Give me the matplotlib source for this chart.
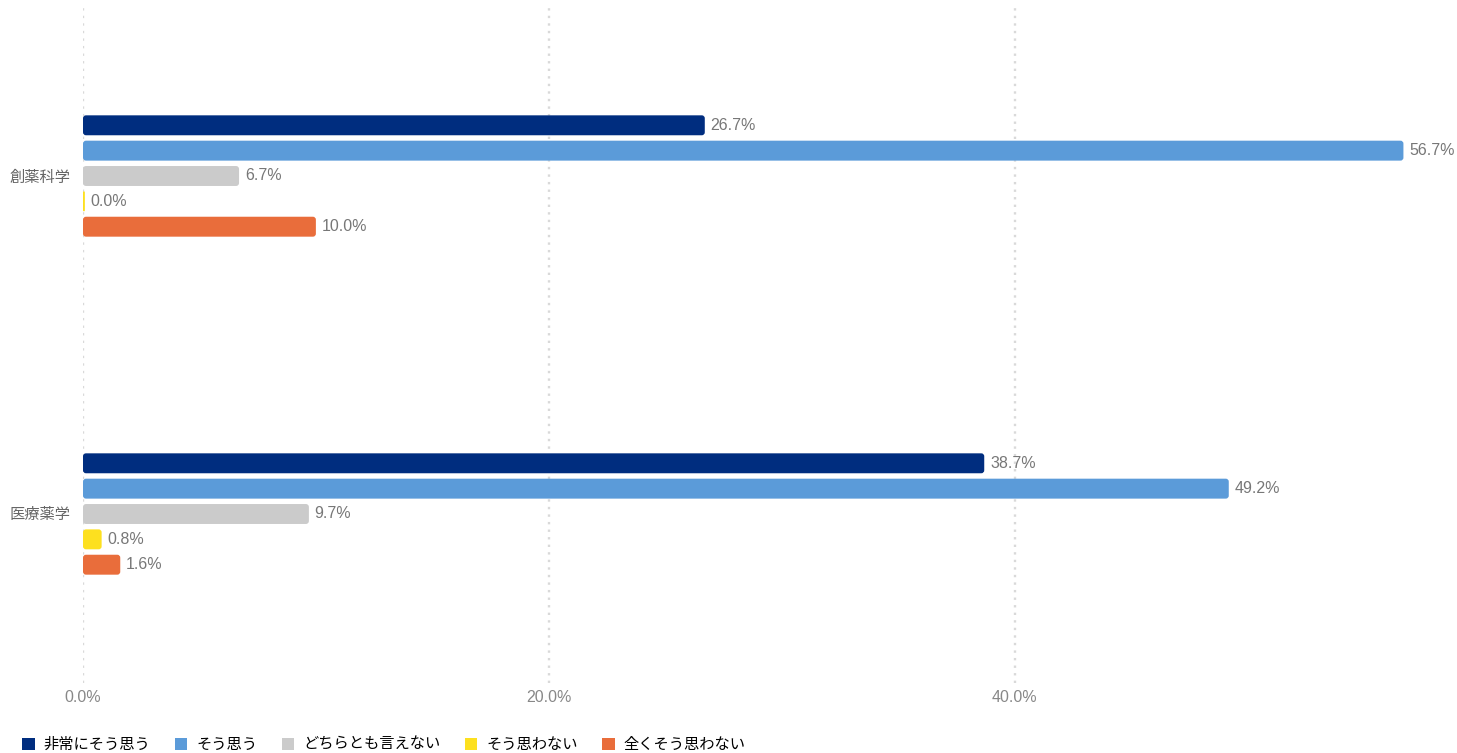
import numpy as np
import matplotlib
matplotlib.use("Agg")
import matplotlib.pyplot as plt
import matplotlib.ticker as ticker
from matplotlib.patches import FancyBboxPatch, Patch

plt.rcParams['font.family'] = ['Liberation Sans', 'Noto Sans CJK JP', 'DejaVu Sans']

# Data
categories = ['創薬科学', '医療薬学']
series_names = ['非常にそう思う', 'そう思う', 'どちらとも言えない', 'そう思わない', '全くそう思わない']
values = {
    '非常にそう思う': [26.7, 38.7],
    'そう思う': [56.7, 49.2],
    'どちらとも言えない': [6.7, 9.7],
    'そう思わない': [0.0, 0.8],
    '全くそう思わない': [10.0, 1.6],
}
colors = ['#002D7F', '#5B9BD9', '#CBCBCB', '#FDE01F', '#E96D3B']
xticks = [0, 20, 40]

# Plot
fig = plt.figure(figsize=(14.57, 7.53), dpi=100)
ax = fig.add_axes([83/1457, 70/753, 1367/1457, 676/753])

XMAX = 58.7
y = np.arange(len(categories))
step = 0.075
bar_h = 0.059
min_w = 0.08  # zero bars still show a thin sliver, like the original
# rounding: ~3px radius, converted to data units
px_x = XMAX / 1367
px_y = 2.0 / 676
for i, (name, col) in enumerate(zip(series_names, colors)):
    offs = (i - 2) * step
    vals = np.array(values[name])
    bars = ax.barh(y + offs, np.maximum(vals, min_w), height=bar_h, color=col, zorder=3)
    for b, v in zip(bars, vals):
        b.set_visible(False)
        r = min(3 * px_x, b.get_width() / 2)
        ax.add_patch(FancyBboxPatch((b.get_x(), b.get_y()), b.get_width(), b.get_height(),
                                    boxstyle=f"round,pad=0,rounding_size={r}",
                                    mutation_aspect=px_y / px_x,
                                    facecolor=col, edgecolor='none', zorder=3))
        ax.text(b.get_width() + 0.25, b.get_y() + b.get_height()/2, f"{v:.1f}%",
                va='center', ha='left', fontsize=11.5, color='#777777', zorder=4)

ax.set_ylim(1.5, -0.5)
ax.set_xlim(0, XMAX)
ax.set_yticks(y)
ax.set_yticklabels(categories, fontsize=11, color='#666666')
ax.set_xticks(xticks)
ax.xaxis.set_major_formatter(ticker.FuncFormatter(lambda v, p: f"{v:.1f}%"))
ax.tick_params(axis='x', length=0, pad=5, labelsize=11.5, labelcolor='#888888')
ax.tick_params(axis='y', length=0, pad=9)
for s in ax.spines.values():
    s.set_visible(False)
ax.grid(True, axis='x', color='#D9D9D9', linestyle=(0, (1, 2.2)), linewidth=1.7, zorder=0)

handles = [Patch(facecolor=c, edgecolor='none', label=n) for n, c in zip(series_names, colors)]
fig.legend(handles=handles, loc='lower left', bbox_to_anchor=(0.006, -0.017), ncol=5,
           frameon=False, fontsize=11, handlelength=0.8, handleheight=0.8,
           handletextpad=0.6, columnspacing=1.6)

plt.savefig('out.png', dpi=100)
